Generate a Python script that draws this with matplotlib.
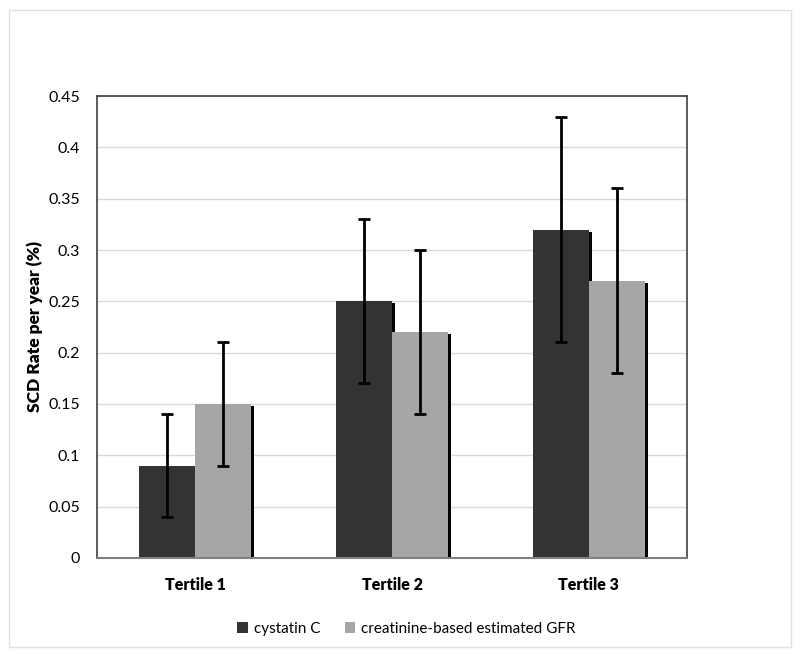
import matplotlib
matplotlib.use("Agg")
import matplotlib.pyplot as plt
import numpy as np
from matplotlib.patches import Rectangle

# ----------- Data ------------
tertiles = ["Tertile 1", "Tertile 2", "Tertile 3"]
cystatin = [0.09, 0.25, 0.32]
cystatin_lo = [0.04, 0.17, 0.21]
cystatin_hi = [0.14, 0.33, 0.43]
egfr = [0.15, 0.22, 0.27]
egfr_lo = [0.09, 0.14, 0.18]
egfr_hi = [0.21, 0.30, 0.36]
series_labels = ["cystatin C", "creatinine-based estimated GFR"]

plt.rcParams['font.family'] = ['Lato', 'DejaVu Sans']

fig = plt.figure(figsize=(8, 6.54), dpi=100)
fig.patches.append(Rectangle((0.011, 0.011), 0.978, 0.973, transform=fig.transFigure,
                             fill=False, edgecolor='#e0e0e0', linewidth=1))
ax = fig.add_axes([0.121, 0.147, 0.738, 0.706])

x = np.arange(len(tertiles))
width = 0.285
dx = 0.016   # shadow offset in data units
dy = 0.002

# shadows
ax.bar(x - width / 2 + dx, np.array(cystatin) - dy, width, color='black', zorder=1)
ax.bar(x + width / 2 + dx, np.array(egfr) - dy, width, color='black', zorder=1)

ax.bar(x - width / 2, cystatin, width, color='#333333', label=series_labels[0], zorder=2)
ax.bar(x + width / 2, egfr, width, color='#a6a6a6', label=series_labels[1], zorder=2)

'''error bars'''
c_err = [np.array(cystatin) - np.array(cystatin_lo), np.array(cystatin_hi) - np.array(cystatin)]
e_err = [np.array(egfr) - np.array(egfr_lo), np.array(egfr_hi) - np.array(egfr)]
ax.errorbar(x - width / 2, cystatin, yerr=c_err, fmt='none', ecolor='black',
            elinewidth=2, capsize=4.5, capthick=2, zorder=3)
ax.errorbar(x + width / 2, egfr, yerr=e_err, fmt='none', ecolor='black',
            elinewidth=2, capsize=4.5, capthick=2, zorder=3)

ax.set_xlim(-0.5, 2.5)
ax.set_ylim(0, 0.45)
ax.set_yticks(np.arange(0, 0.451, 0.05))
ax.set_yticklabels(["0", "0.05", "0.1", "0.15", "0.2", "0.25", "0.3", "0.35", "0.4", "0.45"])
ax.set_xticks(x)
ax.set_xticklabels(tertiles, fontweight='heavy', fontsize=11.5)
ax.tick_params(axis='both', length=0, labelsize=11.5, colors='black')
ax.tick_params(axis='x', pad=14)
ax.tick_params(axis='y', pad=12)
ax.yaxis.grid(True, color='#d9d9d9', linewidth=1, zorder=0)
ax.set_axisbelow(True)

for side in ['left', 'right', 'top']:
    ax.spines[side].set_color('#404040')
    ax.spines[side].set_linewidth(1.2)
ax.spines['bottom'].set_color('#808080')
ax.spines['bottom'].set_linewidth(1.5)

ax.set_ylabel("SCD Rate per year (%)", fontweight='heavy', fontsize=12.5, labelpad=4)

handles, labels = ax.get_legend_handles_labels()
fig.legend(handles, labels, loc='center', bbox_to_anchor=(0.508, 0.038), ncol=2,
           frameon=False, fontsize=11, handlelength=0.7, handleheight=0.7,
           handletextpad=0.4, columnspacing=1.6)

fig.savefig("out.png", dpi=100)
